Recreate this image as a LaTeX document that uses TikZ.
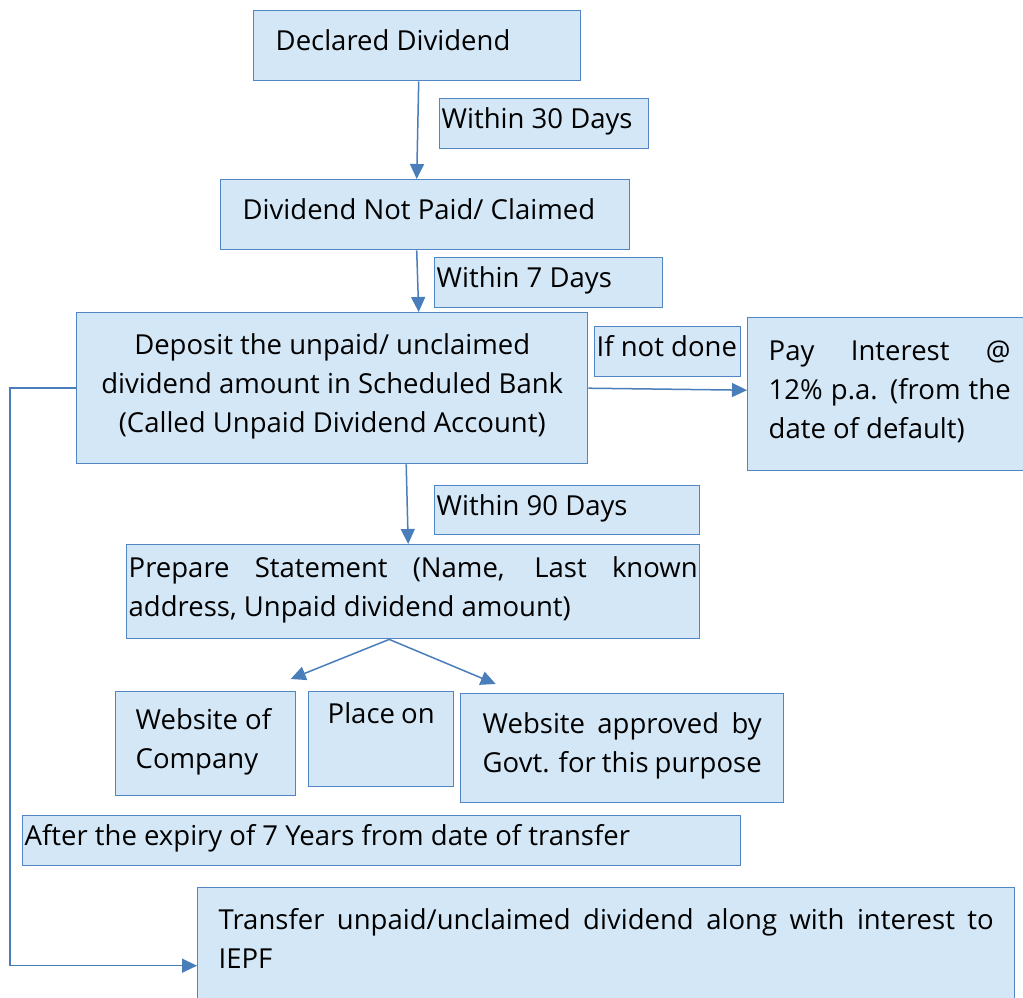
\documentclass[tikz,border=0pt]{standalone}
\usepackage{fontspec}
\setmainfont{Open Sans}
\usetikzlibrary{arrows.meta}
\definecolor{boxfill}{HTML}{D4E7F6}
\definecolor{boxline}{HTML}{5285C3}
\definecolor{arrcol}{HTML}{4A7EBB}
\newcommand{\bt}[4]{\parbox[c][#2][#1]{#3}{\strut #4\strut\par\vskip6pt}}
\tikzset{
  box/.style={draw=boxline, fill=boxfill, line width=1.4pt, inner ysep=0pt, anchor=north west,
    font=\fontsize{27.5}{39}\selectfont},
  arr/.style={draw=arrcol, line width=1.5pt, -{Triangle[width=14pt,length=15pt]}}
}
\begin{document}
\begin{tikzpicture}[x=1pt,y=-1pt]
\useasboundingbox (0,0) rectangle (1023,998);
\node[box, inner xsep=22pt] (dd) at (253,10) {\bt{c}{70pt}{283pt}{Declared Dividend}};
\node[box, inner xsep=2pt] (w30) at (439,98) {\bt{c}{50pt}{205pt}{Within 30 Days}};
\node[box, inner xsep=22pt] (np) at (220,179) {\bt{c}{70pt}{365pt}{Dividend Not Paid/ Claimed}};
\node[box, inner xsep=2pt] (w7) at (434,257) {\bt{c}{50pt}{224pt}{Within 7 Days}};
\node[box, inner xsep=10pt] (dep) at (76,312) {\bt{c}{151pt}{491pt}{\centering Deposit the unpaid/ unclaimed\\ dividend amount in Scheduled Bank\\ (Called Unpaid Dividend Account)}};
\node[box, inner xsep=2pt] (ind) at (594,326) {\bt{c}{50pt}{142pt}{If not done}};
\node[box, inner xsep=21pt] (pay) at (747,317) {\bt{c}{153pt}{242pt}{Pay Interest @\linebreak 12\% p.a. (from the\linebreak date of default)}};
\node[box, inner xsep=2pt] (w90) at (434,485) {\bt{c}{49pt}{261pt}{Within 90 Days}};
\node[box, inner xsep=2pt] (ps) at (126,544) {\bt{c}{94pt}{569pt}{Prepare Statement (Name, Last known\linebreak address, Unpaid dividend amount)}};
\node[box, inner xsep=20pt] (wc) at (115,691) {\bt{c}{104pt}{140pt}{Website of\\ Company}};
\node[box, inner xsep=19pt] (po) at (308,691) {\parbox[c][95pt][t]{107pt}{\vspace*{4pt}\strut Place on}};
\node[box, inner xsep=22pt] (wa) at (460,693) {\bt{c}{109pt}{279pt}{Website approved by\linebreak Govt. for this purpose}};
\node[box, inner xsep=2pt] (ae) at (22,815) {\bt{c}{50pt}{714pt}{After the expiry of 7 Years from date of transfer}};
\node[box, inner xsep=21pt] (tr) at (197,887) {\parbox[c][125pt][t]{775pt}{\vspace*{14pt}\strut Transfer unpaid/unclaimed dividend along with interest to\linebreak IEPF}};

\draw[arr] ([xshift=1.5pt]dd.south) -- ([xshift=-0.5pt]dd.south |- np.north);
\draw[arr] ([xshift=-8.5pt]np.south) -- ([xshift=-6.5pt]np.south |- dep.north);
\draw[arr] (dep.east) -- ([yshift=4pt]pay.west);
\draw[arr] ([xshift=74pt]dep.south) -- ([xshift=76pt]dep.south |- ps.north);
\draw[arr] ([xshift=-24pt]ps.south) -- ([shift={(85pt,12pt)}]wc.north);
\draw[arr] ([xshift=-24pt]ps.south) -- ([shift={(-126.5pt,9pt)}]wa.north);
\coordinate (lc) at ([xshift=-66pt]dep.west);
\draw[arr] (dep.west) -- (lc) |- ([yshift=-15.5pt]tr.west);
\end{tikzpicture}
\end{document}
